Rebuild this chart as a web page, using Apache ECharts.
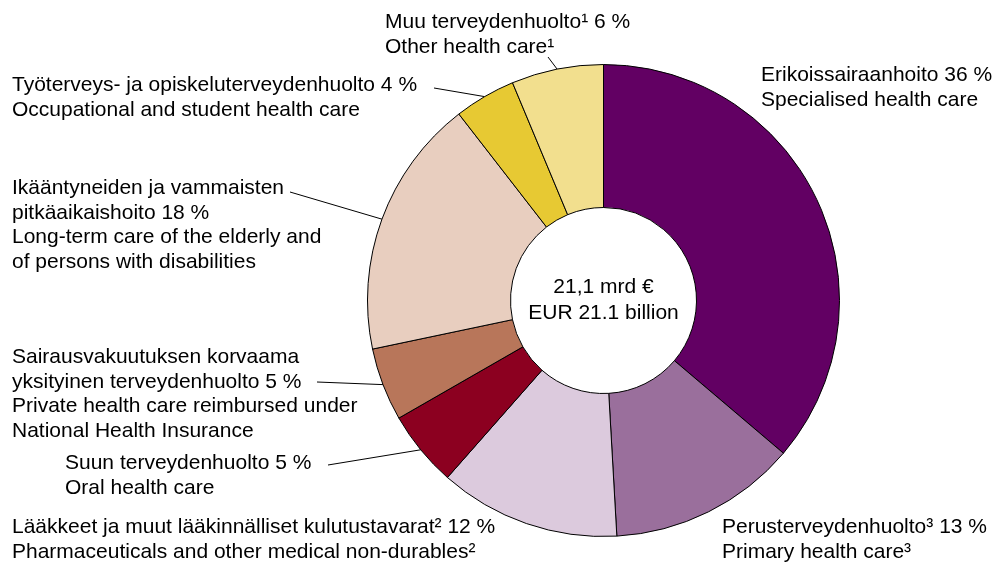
<!DOCTYPE html>
<html>
<head>
<meta charset="utf-8">
<script src="https://cdn.jsdelivr.net/npm/echarts@6/dist/echarts.min.js"></script>
<style>
html,body{margin:0;padding:0;background:#fff;}
#c{width:996px;height:563px;}
</style>
</head>
<body>
<div id="c"></div>
<script>
// ---- data ----
const fiNames = [
  'Erikoissairaanhoito',
  'Perusterveydenhuolto³',
  'Lääkkeet ja muut lääkinnälliset kulutustavarat²',
  'Suun terveydenhuolto',
  'Sairausvakuutuksen korvaama\nyksityinen terveydenhuolto',
  'Ikääntyneiden ja vammaisten\npitkäaikaishoito',
  'Työterveys- ja opiskeluterveydenhuolto',
  'Muu terveydenhuolto¹'
];
const enNames = [
  'Specialised health care',
  'Primary health care³',
  'Pharmaceuticals and other medical non-durables²',
  'Oral health care',
  'Private health care reimbursed under\nNational Health Insurance',
  'Long-term care of the elderly and\nof persons with disabilities',
  'Occupational and student health care',
  'Other health care¹'
];
const shares = [36.2, 12.9, 12.4, 5.2, 5.0, 17.8, 4.2, 6.3];
const centerText = ['21,1 mrd €', 'EUR 21.1 billion'];

// ---- style / layout ----
const colors = ['#620063', '#9a6f9c', '#dccadd', '#8c0020', '#b8765a', '#e8cebf', '#e7c933', '#f2df8e'];
const labelPos = [
  [761, 63], [722, 515], [12, 515], [65, 451], [12, 345], [12, 176], [12, 73], [385, 10]
];
const lineStart = [null, null, null, [328, 465], [317, 382], [290, 192], [434, 88], [548, 57]];
const FONT = '"Liberation Sans", Arial, sans-serif';

const total = shares.reduce((a, b) => a + b, 0);
const data = shares.map((v, i) => ({
  name: enNames[i],
  value: v,
  itemStyle: { color: colors[i] },
  labelLine: { show: !!lineStart[i] }
}));

const chart = echarts.init(document.getElementById('c'), null, { renderer: 'canvas' });
chart.setOption({
  animation: false,
  backgroundColor: '#fff',
  series: [{
    type: 'pie',
    center: [603.5, 300.5],
    radius: [93, 236],
    startAngle: 90,
    clockwise: true,
    avoidLabelOverlap: false,
    emphasis: { disabled: true },
    itemStyle: { borderColor: '#000', borderWidth: 1 },
    label: {
      show: true,
      position: 'outside',
      color: '#000',
      fontFamily: FONT,
      fontSize: 21,
      lineHeight: 24.5,
      align: 'left',
      formatter: p => {
        const pct = Math.round(p.value / total * 100);
        return fiNames[p.dataIndex] + ' ' + pct + ' %\n' + enNames[p.dataIndex];
      }
    },
    labelLine: {
      show: true,
      lineStyle: { color: '#000', width: 1 },
      length: 10, length2: 10
    },
    labelLayout: function (params) {
      const i = params.dataIndex;
      const res = { x: labelPos[i][0], y: labelPos[i][1], align: 'left', verticalAlign: 'top' };
      if (lineStart[i] && params.labelLinePoints) {
        const edge = params.labelLinePoints[0];
        res.labelLinePoints = [[edge[0], edge[1]], [lineStart[i][0], lineStart[i][1]], [lineStart[i][0], lineStart[i][1]]];
      }
      return res;
    },
    data: data
  }],
  graphic: [{
    type: 'text',
    x: 603.5, y: 300.5,
    z: 100,
    style: {
      text: centerText.join('\n'),
      fill: '#000',
      font: '21px ' + FONT,
      lineHeight: 26,
      align: 'center',
      verticalAlign: 'middle'
    }
  }]
});
</script>
</body>
</html>
